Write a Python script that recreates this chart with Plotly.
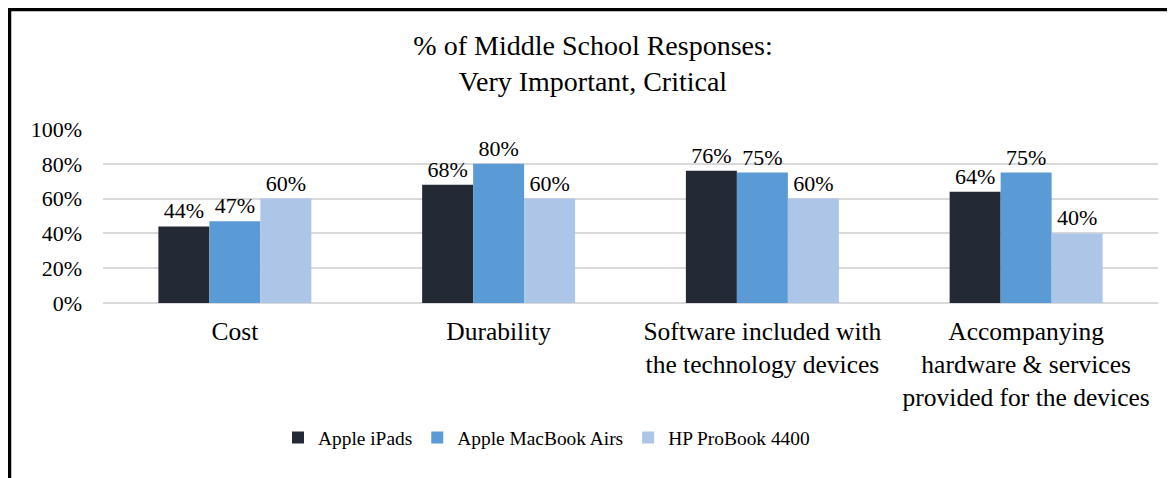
import plotly.graph_objects as go

categories = [
    "Cost",
    "Durability",
    "Software included with<br>the technology devices",
    "Accompanying<br>hardware & services<br>provided for the devices",
]
series_names = ["Apple iPads", "Apple MacBook Airs", "HP ProBook 4400"]
ipads = [0.44, 0.68, 0.76, 0.64]
macbook_airs = [0.47, 0.80, 0.75, 0.75]
hp_probook = [0.60, 0.60, 0.60, 0.40]
colors = ["#242A35", "#5B9BD5", "#ADC5E6"]
y_ticks = [0, 0.2, 0.4, 0.6, 0.8, 1.0]

# page has an 8px body margin, so the figure is drawn at (8, 8)
W, H = 1167, 470
ML, MR, MT, MB = 95, 17, 121, 175
PW, PH = W - ML - MR, H - MT - MB

font_family = "Liberation Serif, Times New Roman, serif"

fig = go.Figure()
for name, vals, col in zip(series_names, [ipads, macbook_airs, hp_probook], colors):
    fig.add_trace(go.Bar(
        name=name,
        x=categories,
        y=vals,
        marker=dict(color=col, line=dict(width=0)),
        text=[f"{round(v*100)}%" for v in vals],
        textposition="outside",
        textfont=dict(family=font_family, size=22, color="#000000"),
        cliponaxis=False,
    ))

# decorative frame (top and left edges visible)
def px_to_paper_x(px):
    return (px - ML) / PW

def px_to_paper_y(py):
    return (H - MB - py) / PH

fig.add_shape(type="rect", xref="paper", yref="paper",
              x0=px_to_paper_x(1.5), x1=px_to_paper_x(1250),
              y0=px_to_paper_y(560), y1=px_to_paper_y(1.5),
              line=dict(color="#000000", width=3.5), fillcolor="rgba(0,0,0,0)",
              layer="above")

fig.update_layout(
    width=W, height=H,
    margin=dict(l=ML, r=MR, t=MT, b=MB, autoexpand=False),
    paper_bgcolor="white",
    plot_bgcolor="white",
    barmode="group",
    bargap=0.42,
    bargroupgap=0,
    font=dict(family=font_family, color="#000000"),
    title=dict(
        text="% of Middle School Responses:<br>Very Important, Critical",
        font=dict(family=font_family, size=28, color="#000000"),
        x=585 / W, xref="container", xanchor="center",
        y=1 - 46.5 / H, yref="container", yanchor="middle",
    ),
    legend=dict(
        orientation="h",
        x=270 / W, xref="container", xanchor="left",
        y=1 - 430 / H, yref="container", yanchor="middle",
        font=dict(family=font_family, size=19.4, color="#000000"),
        bgcolor="rgba(0,0,0,0)",
    ),
    xaxis=dict(
        tickfont=dict(family=font_family, size=25.5, color="#000000"),
        showgrid=False,
        showline=False,
        ticks="",
        ticklabelstandoff=10,
        automargin=False,
    ),
    yaxis=dict(
        range=[0, 1],
        tickvals=y_ticks,
        tickformat=".0%",
        tickfont=dict(family=font_family, size=22, color="#000000"),
        showgrid=True,
        gridcolor="#D9D9D9",
        gridwidth=2,
        zeroline=True,
        zerolinecolor="#D9D9D9",
        zerolinewidth=2,
        showline=False,
        ticks="",
        ticklabelstandoff=20,
        automargin=False,
    ),
)

fig.write_html("out.html")
